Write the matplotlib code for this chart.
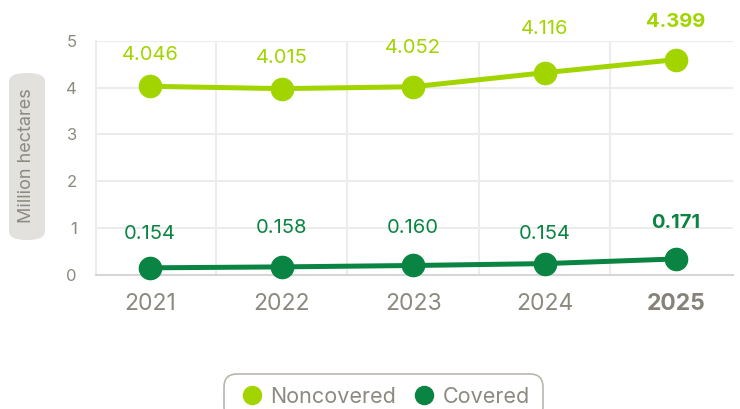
import matplotlib.pyplot as plt
from matplotlib.patches import FancyBboxPatch
from matplotlib.lines import Line2D

plt.rcParams['font.family'] = ['Inter', 'DejaVu Sans']

years = ['2021', '2022', '2023', '2024', '2025']
# point heights as drawn in the picture (million hectares)
noncovered = [4.03, 3.98, 4.02, 4.32, 4.60]
covered = [0.15, 0.17, 0.20, 0.24, 0.34]
# the values printed above the points
noncovered_labels = ['4.046', '4.015', '4.052', '4.116', '4.399']
covered_labels = ['0.154', '0.158', '0.160', '0.154', '0.171']

light_green = '#a2d500'
dark_green = '#0a8442'
grey_text = '#8c8a80'

fig = plt.figure(figsize=(7.4, 4.09), dpi=100)
ax = fig.add_axes([0.13, 0.328, 0.86, 0.572])

x = list(range(len(years)))
ax.plot(x, noncovered, color=light_green, lw=3.6, marker='o', ms=16, zorder=3, clip_on=False)
ax.plot(x, covered, color=dark_green, lw=3.6, marker='o', ms=16, zorder=3, clip_on=False)

# label offsets in pixels above each point
nc_off = [31, 31, 39, 44, 38]
c_off = [34, 39, 37, 30, 36]
for i in x:
    bold = 'bold' if i == len(years) - 1 else 'normal'
    ax.annotate(noncovered_labels[i], (i, noncovered[i]), xytext=(0, nc_off[i] * 0.72),
                textcoords='offset points', ha='center', va='center', fontsize=14.5,
                color=light_green, fontweight=bold)
    ax.annotate(covered_labels[i], (i, covered[i]), xytext=(0, c_off[i] * 0.72),
                textcoords='offset points', ha='center', va='center', fontsize=14.5,
                color=dark_green, fontweight=bold)

ax.set_xlim(-0.41, 4.43)
ax.set_ylim(0, 5)
ax.set_yticks([0, 1, 2, 3, 4, 5])
ax.set_xticks(x)
ax.set_xticklabels(years)
ax.set_xticks([i + 0.5 for i in x[:-1]], minor=True)
ax.grid(True, which='minor', axis='x', color='#ececec', lw=1.5)
ax.grid(True, which='major', axis='y', color='#ececec', lw=1.5)
ax.set_axisbelow(True)
ax.tick_params(axis='y', length=0, labelsize=12, labelcolor=grey_text, pad=14)
ax.tick_params(axis='x', which='both', length=0, labelsize=16.5, labelcolor=grey_text, pad=13)
ax.get_xticklabels()[-1].set_fontweight('bold')
ax.get_xticklabels()[-1].set_color('#858379')
for s in ['top', 'right']:
    ax.spines[s].set_visible(False)
ax.spines['left'].set_color('#ececec')
ax.spines['left'].set_linewidth(1.5)
ax.spines['bottom'].set_color('#d6d6d6')
ax.spines['bottom'].set_linewidth(1.5)

# y-axis title in a rounded grey pill
pill = FancyBboxPatch((9 / 740, 1 - 240 / 409), 36 / 740, 167 / 409,
                      boxstyle='round,pad=0,rounding_size=0.022', transform=fig.transFigure,
                      facecolor='#e2e1de', edgecolor='none')
fig.patches.append(pill)
fig.text(27 / 740, 1 - 156 / 409, 'Million hectares', rotation=90, ha='center', va='center',
         fontsize=13, color=grey_text)

handles = [Line2D([], [], ls='none', marker='o', ms=13, color=light_green),
           Line2D([], [], ls='none', marker='o', ms=13, color=dark_green)]
leg = fig.legend(handles, ['Noncovered', 'Covered'], loc='upper center', ncol=2,
                 bbox_to_anchor=(0.518, 1 - 374 / 409), frameon=True, fancybox=True,
                 fontsize=15.5, labelcolor=grey_text, handletextpad=0.15, columnspacing=0.6,
                 borderpad=0.6, borderaxespad=0, handlelength=1.4)
leg.get_frame().set_edgecolor('#a8a49c')
leg.get_frame().set_linewidth(1.2)
leg.get_frame().set_boxstyle('round', pad=0, rounding_size=0.6)

fig.savefig('out.png', dpi=100)
